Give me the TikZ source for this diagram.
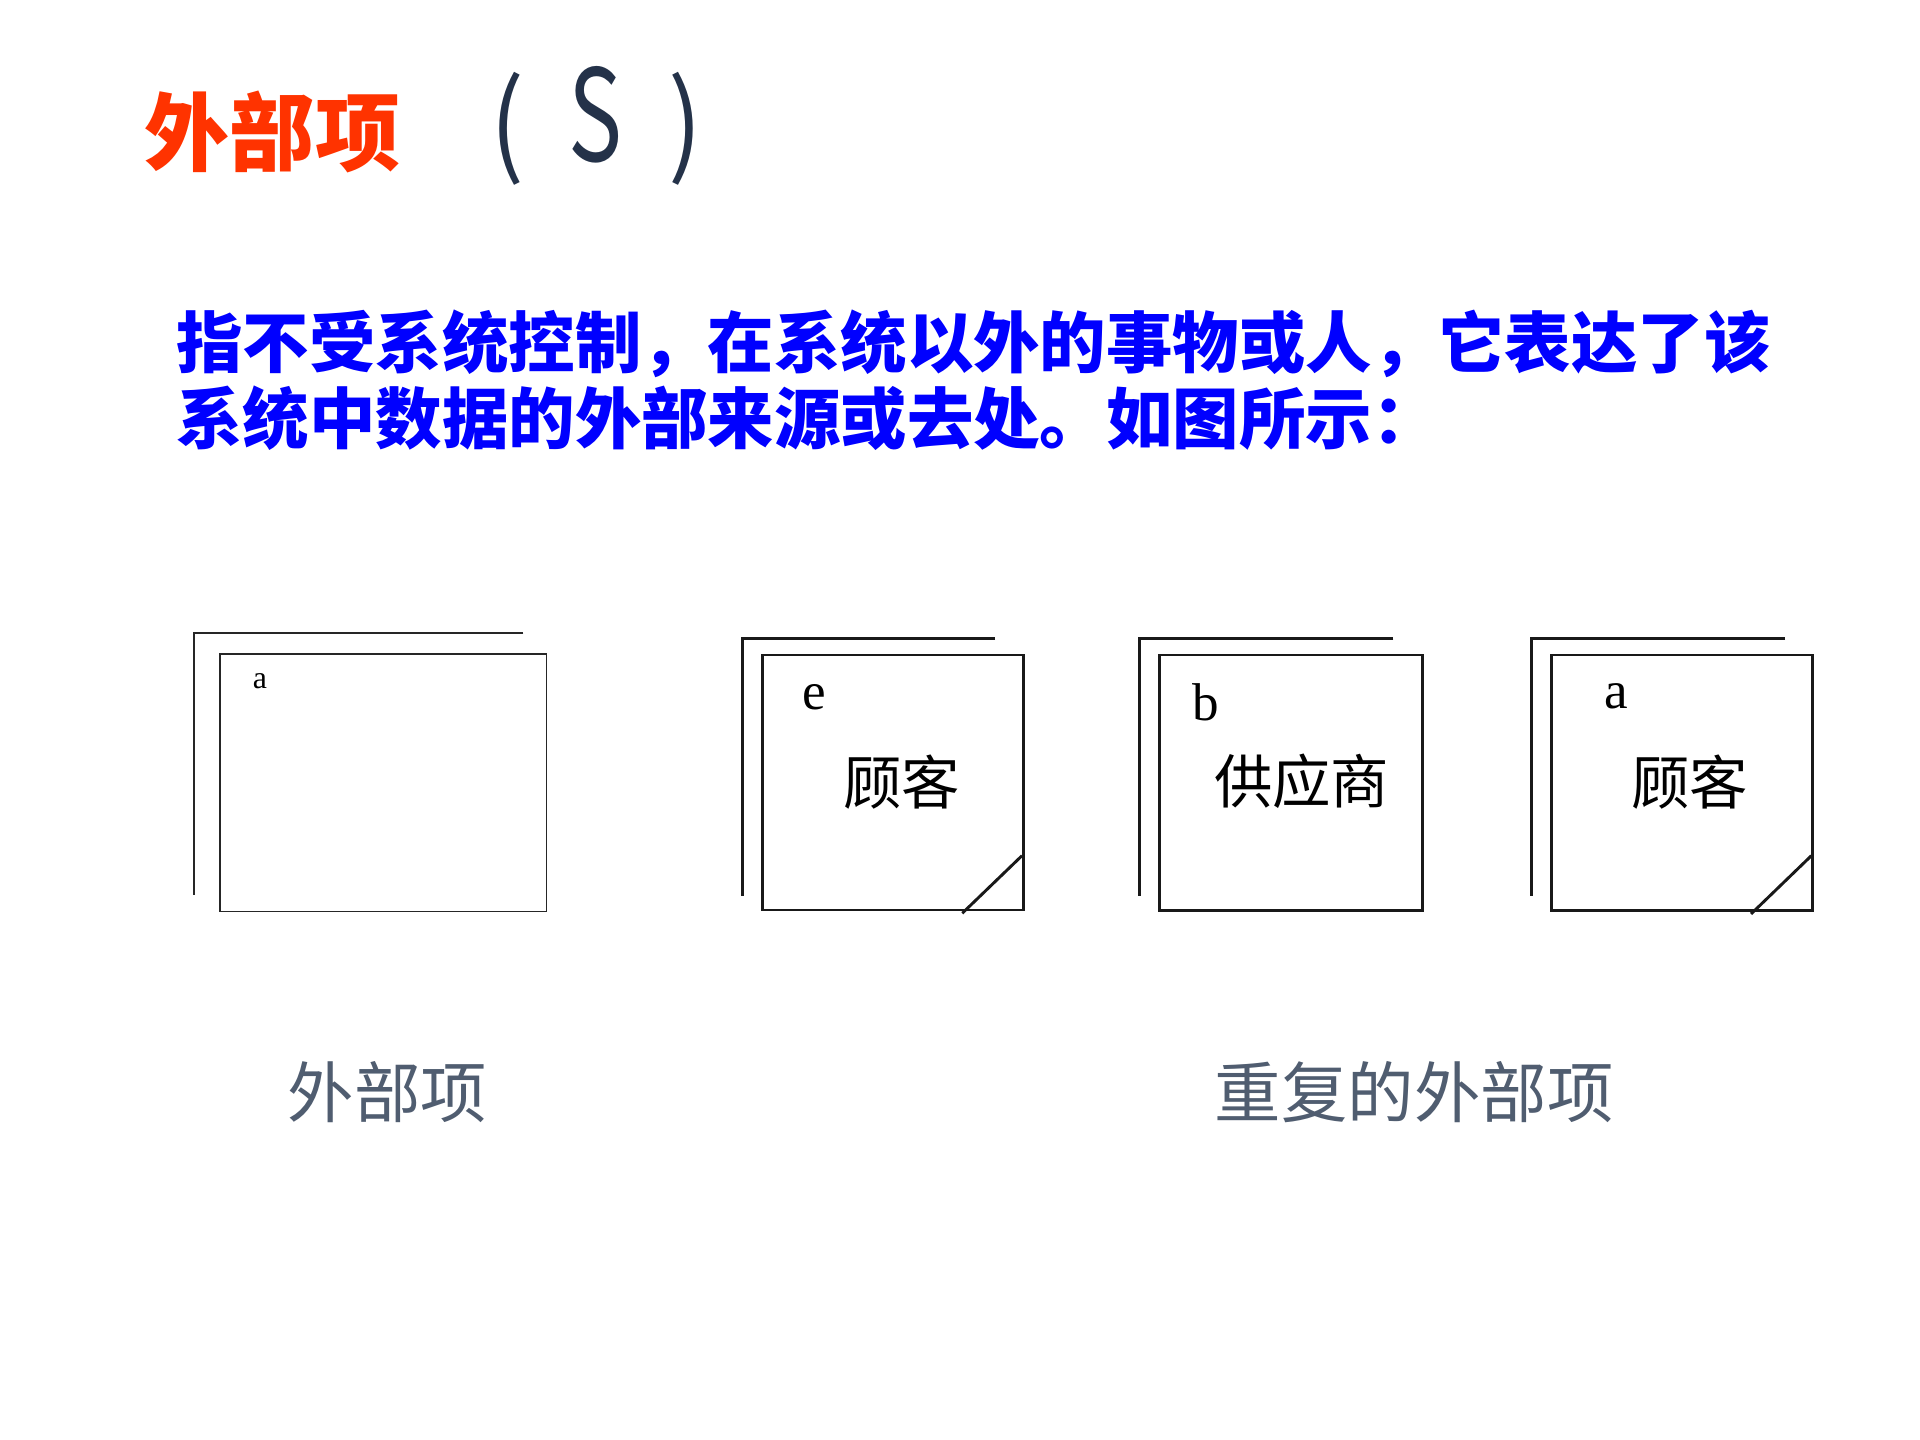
\documentclass[tikz,border=0pt]{standalone}
\usepackage{fontspec}
\setmainfont{Liberation Serif}
\newfontfamily\cjk{Noto Sans CJK SC}
\definecolor{titlered}{RGB}{255,51,0}
\definecolor{navy}{RGB}{36,50,73}
\definecolor{captiongray}{RGB}{80,93,112}
\definecolor{bodyblue}{RGB}{0,0,255}

\begin{document}
\begin{tikzpicture}[
    thinline/.style={line width=0.6pt, draw=black!85},
    boldline/.style={line width=1.1pt, draw=black!90},
    tag/.style={inner sep=0pt, font=\fontsize{20}{24}\selectfont},
    entname/.style={inner sep=0pt, font=\cjk\fontsize{22}{26}\selectfont},
    caption/.style={inner sep=0pt, text=captiongray, font=\cjk\fontsize{25}{30}\selectfont},
    symbol/.style={inner sep=0pt, text=navy}
  ]
    \useasboundingbox (0,0) rectangle (25.4,19.05);

    \node[inner sep=0pt, text=titlered, font=\cjk\bfseries\fontsize{32}{38}\selectfont] (title) at (3.605,17.304) {外部项};
    \node[symbol, font=\cjk\fontsize{42}{48}\selectfont] (lpar) at (6.714,17.341) {\scalebox{0.9}[1]{(}};
    \node[symbol, font=\cjk\fontsize{48}{56}\selectfont] (sym) at (7.871,17.529) {\scalebox{0.71}[1]{S}};
    \node[symbol, font=\cjk\fontsize{42}{48}\selectfont] (rpar) at (9.062,17.341) {\scalebox{0.9}[1]{)}};

    \node[anchor=west, inner sep=0pt, align=left, text=bodyblue, font=\cjk\bfseries\fontsize{25}{28.6}\selectfont] (intro) at (2.328,14.019)
      {指不受系统控制，在系统以外的事物或人，它表达了该\\系统中数据的外部来源或去处。如图所示：};

    \draw[thinline] (6.923,10.672) -- (2.570,10.672) -- (2.570,7.210);
    \draw[thinline] (2.910,6.989) rectangle (7.232,10.398);
    \node[inner sep=0pt, font=\fontsize{12}{14}\selectfont] (tagplain) at (3.440,10.032) {a};

    \draw[boldline] (13.163,10.606) -- (9.825,10.606) -- (9.825,7.197);
    \draw[boldline] (10.085,7.011) rectangle (13.537,10.385);
    \draw[boldline] (12.730,6.968) -- (13.520,7.730);
    \node[tag] (tage) at (10.773,9.825) {e};
    \node[entname] (custe) at (11.929,8.709) {顾客};

    \draw[boldline] (18.432,10.597) -- (15.072,10.597) -- (15.072,7.197);
    \draw[boldline] (15.337,7.002) rectangle (18.821,10.385);
    \node[tag] (tagb) at (15.954,9.754) {b};
    \node[entname] (supplier) at (17.220,8.709) {供应商};

    \draw[boldline] (23.614,10.597) -- (20.263,10.597) -- (20.263,7.197);
    \draw[boldline] (20.519,7.002) rectangle (23.980,10.385);
    \draw[boldline] (23.165,6.959) -- (23.963,7.730);
    \node[tag] (taga) at (21.388,9.833) {a};
    \node[entname] (custa) at (22.357,8.709) {顾客};

    \node[caption] (capsingle) at (5.126,4.608) {外部项};
    \node[caption] (caprepeat) at (18.709,4.608) {重复的外部项};
  \end{tikzpicture}
\end{document}
